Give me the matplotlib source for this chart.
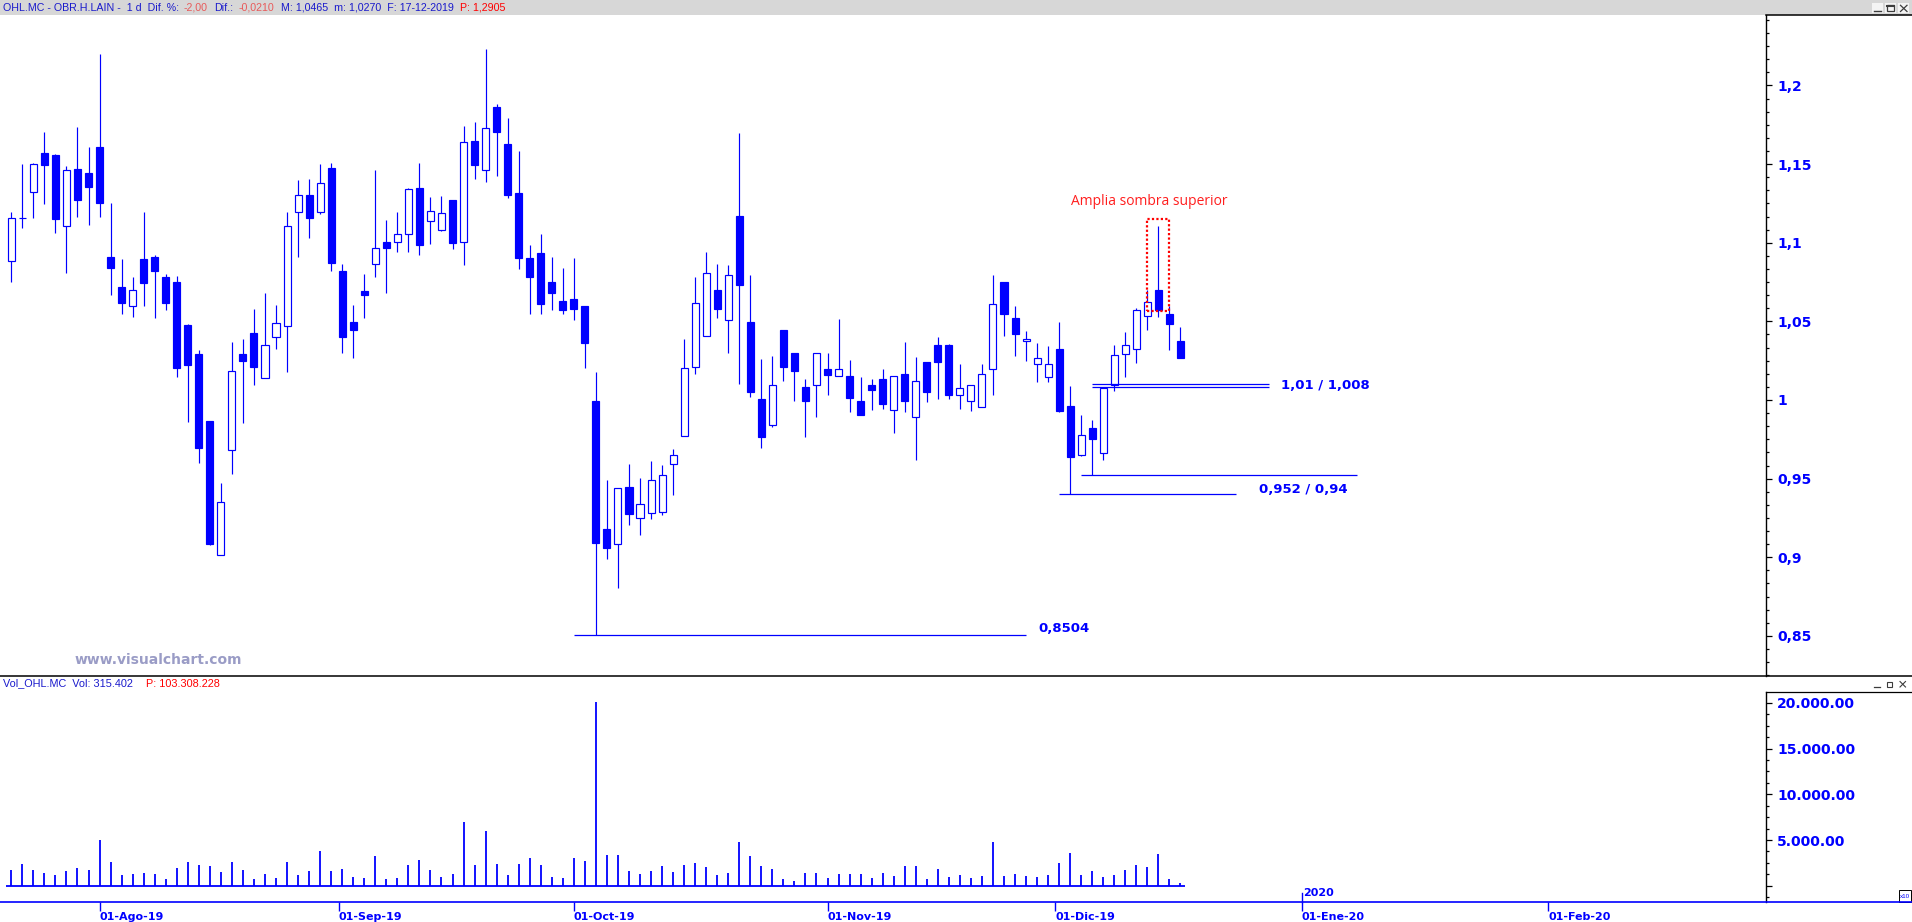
import numpy as np
import pandas as pd
import matplotlib
matplotlib.use('Agg')
import matplotlib.pyplot as plt
from matplotlib.patches import Rectangle
from matplotlib.ticker import MultipleLocator

# OHL.MC diario, 22-07-2019 a 17-12-2019
aperturas = [1.0882, 1.1155, 1.1325, 1.1568, 1.1558, 1.1109, 1.1467, 1.1441, 1.1609, 1.0909,
             1.0719, 1.0596, 1.0897, 1.0909, 1.0782, 1.0750, 1.0475, 1.0290, 0.9864, 0.9012,
             0.9680, 1.0290, 1.0426, 1.0142, 1.0398, 1.0468, 1.1193, 1.1301, 1.1193, 1.1473,
             1.0820, 1.0496, 1.0693, 1.0863, 1.1003, 1.1003, 1.1053, 1.1346, 1.1136, 1.1079,
             1.1270, 1.1003, 1.1645, 1.1460, 1.1863, 1.1628, 1.1316, 1.0903, 1.0935, 1.0750,
             1.0630, 1.0642, 1.0598, 0.9994, 0.9180, 0.9082, 0.9447, 0.9248, 0.9279, 0.9286,
             0.9591, 0.9769, 1.0208, 1.0405, 1.0697, 1.0507, 1.1168, 1.0496, 1.0006, 0.9839,
             1.0445, 1.0299, 1.0083, 1.0093, 1.0197, 1.0150, 1.0153, 0.9994, 1.0093, 1.0134,
             0.9934, 1.0165, 0.9890, 1.0242, 1.0348, 1.0348, 1.0030, 0.9992, 0.9953, 1.0195,
             1.0750, 1.0521, 1.0373, 1.0227, 1.0144, 1.0324, 0.9962, 0.9648, 0.9822, 0.9661,
             1.0093, 1.0290, 1.0322, 1.0532, 1.0699, 1.0547, 1.0375]
maximos = [1.1195, 1.1501, 1.1505, 1.1704, 1.1564, 1.1488, 1.1736, 1.1609, 1.2200, 1.1253,
           1.0897, 1.0782, 1.1195, 1.0922, 1.0800, 1.0788, 1.0480, 1.0318, 0.9864, 0.9472,
           1.0369, 1.0388, 1.0579, 1.0680, 1.0604, 1.1195, 1.1399, 1.1405, 1.1501, 1.1507,
           1.0865, 1.0604, 1.0801, 1.1462, 1.1145, 1.1195, 1.1350, 1.1507, 1.1291, 1.1295,
           1.1270, 1.1742, 1.1768, 1.2232, 1.1882, 1.1793, 1.1583, 1.0986, 1.1056, 1.0909,
           1.0839, 1.0903, 1.0598, 1.0178, 0.9491, 0.9438, 0.9593, 0.9504, 0.9612, 0.9587,
           0.9688, 1.0388, 1.0782, 1.0941, 1.0865, 1.0858, 1.1698, 1.0793, 1.0261, 1.0280,
           1.0445, 1.0299, 1.0134, 1.0299, 1.0299, 1.0515, 1.0254, 1.0146, 1.0134, 1.0197,
           1.0150, 1.0369, 1.0273, 1.0242, 1.0401, 1.0355, 1.0229, 1.0093, 1.0229, 1.0795,
           1.0750, 1.0598, 1.0439, 1.0365, 1.0343, 1.0494, 1.0089, 0.9905, 0.9873, 1.0080,
           1.0350, 1.0432, 1.0585, 1.0699, 1.1106, 1.0600, 1.0465]
minimos = [1.0752, 1.1096, 1.1159, 1.1248, 1.1064, 1.0805, 1.1164, 1.1113, 1.1164, 1.0670,
           1.0549, 1.0530, 1.0600, 1.0524, 1.0574, 1.0148, 0.9862, 0.9602, 0.9078, 0.9012,
           0.9532, 0.9856, 1.0097, 1.0142, 1.0326, 1.0180, 1.0911, 1.1032, 1.1181, 1.0822,
           1.0301, 1.0269, 1.0524, 1.0780, 1.0682, 1.0943, 1.0943, 1.0924, 1.0994, 1.1075,
           1.0958, 1.0858, 1.1405, 1.1388, 1.1426, 1.1287, 1.0835, 1.0549, 1.0549, 1.0574,
           1.0549, 1.0511, 1.0206, 0.8504, 0.8991, 0.8807, 0.9207, 0.9144, 0.9241, 0.9271,
           0.9398, 0.9769, 1.0167, 1.0405, 1.0524, 1.0301, 1.0104, 1.0021, 0.9697, 0.9830,
           1.0123, 0.9996, 0.9767, 0.9894, 1.0034, 1.0150, 0.9926, 0.9907, 0.9939, 0.9945,
           0.9792, 0.9926, 0.9621, 0.9989, 1.0008, 1.0008, 0.9945, 0.9932, 0.9953, 1.0032,
           1.0409, 1.0282, 1.0250, 1.0117, 1.0117, 0.9926, 0.9400, 0.9642, 0.9520, 0.9621,
           1.0055, 1.0148, 1.0237, 1.0445, 1.0530, 1.0318, 1.0270]
cierres = [1.1155, 1.1155, 1.1499, 1.1496, 1.1151, 1.1460, 1.1272, 1.1357, 1.1255, 1.0841,
           1.0619, 1.0697, 1.0746, 1.0822, 1.0619, 1.0206, 1.0225, 0.9697, 0.9086, 0.9349,
           1.0182, 1.0250, 1.0212, 1.0348, 1.0487, 1.1104, 1.1301, 1.1159, 1.1378, 1.0869,
           1.0403, 1.0447, 1.0670, 1.0964, 1.0964, 1.1053, 1.1340, 1.0988, 1.1200, 1.1187,
           1.1000, 1.1638, 1.1496, 1.1727, 1.1706, 1.1306, 1.0905, 1.0784, 1.0613, 1.0682,
           1.0574, 1.0581, 1.0365, 0.9089, 0.9061, 0.9438, 0.9277, 0.9337, 0.9489, 0.9521,
           0.9648, 1.0201, 1.0615, 1.0805, 1.0581, 1.0793, 1.0733, 1.0053, 0.9767, 1.0093,
           1.0212, 1.0187, 0.9996, 1.0299, 1.0161, 1.0197, 1.0015, 0.9907, 1.0066, 0.9977,
           1.0150, 0.9996, 1.0119, 1.0053, 1.0244, 1.0034, 1.0074, 1.0093, 1.0163, 1.0608,
           1.0549, 1.0422, 1.0388, 1.0265, 1.0227, 0.9932, 0.9635, 0.9775, 0.9750, 1.0074,
           1.0284, 1.0350, 1.0572, 1.0621, 1.0572, 1.0481, 1.0270]
volumenes = [1720, 2380, 1720, 1390, 1170, 1610, 1940, 1720, 5020, 2600,
             1170, 1280, 1390, 1280, 730, 1940, 2600, 2270, 2160, 1500,
             2600, 1720, 730, 1280, 840, 2600, 1170, 1610, 3810, 1610,
             1830, 950, 840, 3260, 730, 840, 2270, 2820, 1720, 950,
             1280, 7000, 2270, 6010, 2380, 1170, 2380, 3040, 2270, 950,
             840, 3040, 2710, 20100, 3370, 3370, 1610, 1280, 1610, 2160,
             1500, 2270, 2490, 2050, 1170, 1390, 4800, 3260, 2160, 1830,
             730, 510, 1390, 1390, 840, 1280, 1280, 1280, 840, 1390,
             1060, 2160, 2160, 730, 1830, 950, 1170, 840, 1060, 4800,
             1060, 1280, 1060, 950, 1170, 2490, 3590, 1170, 1610, 950,
             1170, 1720, 2270, 2050, 3480, 730, 300]

inicio = '2019-07-22'
inicios_mes = ['2019-08-01', '2019-09-01', '2019-10-01', '2019-11-01',
               '2019-12-01', '2020-01-01', '2020-02-01']
etiquetas_mes = ['01-Ago-19', '01-Sep-19', '01-Oct-19', '01-Nov-19',
                 '01-Dic-19', '01-Ene-20', '01-Feb-20']

# niveles marcados a mano
niveles = [1.01, 1.008, 0.952, 0.94, 0.8504]

AZUL = '#0000ff'
W, H = 1912, 922


def caja(x0, y0, x1, y1):
    # pixeles (origen arriba-izquierda) -> fraccion de figura
    return [x0 / W, 1 - y1 / H, (x1 - x0) / W, (y1 - y0) / H]


o = np.array(aperturas)
h = np.array(maximos)
l = np.array(minimos)
c = np.array(cierres)
n = len(c)
x = np.arange(n)
sube = c >= o

fig = plt.figure(figsize=(19.12, 9.22), dpi=100)
X_EJE = 1766
paso, x_ini = 11.03, 11.3
xlim = (-x_ini / paso, (X_EJE - x_ini) / paso)

# ---- panel de precios ----
ax = fig.add_axes(caja(0, 15.3, X_EJE, 676))
ax.vlines(x, l, h, color=AZUL, lw=0.85, zorder=2)
ax.bar(x, np.abs(c - o), bottom=np.minimum(o, c), width=0.64,
       color=np.where(sube, 'white', AZUL), edgecolor=AZUL, linewidth=0.85, zorder=3)
ax.set_xlim(*xlim)
ax.set_ylim(0.8245, 1.2446)
for s in ['top', 'left', 'bottom']:
    ax.spines[s].set_visible(False)
ax.spines['right'].set_linewidth(1)
ax.set_xticks([])
ax.yaxis.tick_right()
ticks_p = np.round(np.arange(0.85, 1.2001, 0.05), 2)
ax.set_yticks(ticks_p, [f"{v:g}".replace('.', ',') for v in ticks_p],
              fontweight='bold', fontsize=10, color=AZUL)
ax.yaxis.set_minor_locator(MultipleLocator(0.05 / 6))
ax.tick_params(axis='y', which='major', length=4.3, width=0.9, color='black', pad=3.6)
ax.tick_params(axis='y', which='minor', length=2.3, width=0.9, color='black')

# lineas de soporte / resistencia
tramos = [(98, 114), (98, 114), (97, 122), (95, 111), (51, 92)]
for nivel, (xa, xb) in zip(niveles, tramos):
    ax.hlines(nivel, xa, xb, color=AZUL, lw=0.9, zorder=4)
estilo = dict(color=AZUL, fontweight='bold', fontsize=9.5, va='center', ha='left')
ax.text(115.15, 1.0091, '1,01 / 1,008', **estilo)
ax.text(113.1, 0.9434, '0,952 / 0,94', **estilo)
ax.text(93.1, 0.855, '0,8504', **estilo)

ax.text(103.2, 1.126, 'Amplia sombra superior', color='#ff1e1e', family='Open Sans',
        fontsize=10, ha='center', va='center')
ax.add_patch(Rectangle((102.94, 1.0566), 2.0, 1.1153 - 1.0566, fill=False,
                       edgecolor='#ff0000', linestyle=(0, (1, 1)), lw=1.6, zorder=5))

# ---- panel de volumen ----
axv = fig.add_axes(caja(0, 691.7, X_EJE, 902.3))
axv.vlines(x, 0, volumenes, color=AZUL, lw=1.3)
axv.hlines(0, -0.45, n - 1 + 0.45, color=AZUL, lw=1.3)
axv.set_xlim(*xlim)
axv.set_ylim(-1816, 21225)
for s in ['top', 'left', 'bottom']:
    axv.spines[s].set_visible(False)
axv.spines['right'].set_linewidth(1)
axv.yaxis.tick_right()
ticks_v = [0, 5000, 10000, 15000, 20000]
axv.set_yticks(ticks_v, ['' if v == 0 else f"{v:,.0f}".replace(',', '.') + '.00' for v in ticks_v],
               fontweight='bold', fontsize=10, color=AZUL)
axv.yaxis.set_minor_locator(MultipleLocator(1250))
axv.tick_params(axis='y', which='major', length=4.3, width=0.9, color='black', pad=3.6)
axv.tick_params(axis='y', which='minor', length=2.3, width=0.9, color='black')

# eje de fechas (dias habiles)
fechas = pd.bdate_range(inicio, periods=200)
pos_mes = []
for m in inicios_mes:
    d = pd.Timestamp(m)
    k = fechas.searchsorted(d)
    pos_mes.append(k - (fechas[k] - d).days / 3)
axv.set_xticks(pos_mes, etiquetas_mes, fontweight='bold', fontsize=8, color=AZUL, ha='left')
axv.tick_params(axis='x', direction='out', length=6.5, width=1, color=AZUL, pad=0.6)
tr = axv.get_xaxis_transform()
axv.plot([pos_mes[5]] * 2, [0, 0.045], transform=tr, color=AZUL, lw=1, clip_on=False)
axv.text(pos_mes[5] + 0.12, 0.044, '2020', transform=tr, color=AZUL, fontweight='bold',
         fontsize=8, va='center', ha='left')

# ---- capa de decoracion en pixeles ----
ov = fig.add_axes([0, 0, 1, 1], zorder=10)
ov.set_xlim(0, W)
ov.set_ylim(H, 0)
ov.axis('off')
ov.add_patch(Rectangle((0, 0), W, 15, color='#d7d7d7', lw=0))
ov.plot([0, W], [676, 676], color='black', lw=1.1)
ov.plot([X_EJE, W], [15.5, 15.5], color='black', lw=1.1)
ov.plot([X_EJE, W], [691.7, 691.7], color='black', lw=0.9)
ov.plot([0, W], [902.3, 902.3], color=AZUL, lw=1.2)

cab = dict(family='Liberation Sans', fontsize=7.7, va='center', ha='left')
azul_t, rosa, rojo = '#1a1acc', '#e85a5a', '#ff0000'
for px, txt, col in [(3.3, 'OHL.MC - OBR.H.LAIN -  1 d  Dif. %:', azul_t),
                     (184, '-2,00', rosa), (214, 'Dif.:', azul_t), (239, '-0,0210', rosa),
                     (281, 'M: 1,0465  m: 1,0270  F: 17-12-2019', azul_t),
                     (460, 'P: 1,2905', rojo)]:
    ov.text(px, 7.6, txt, color=col, **cab)

cab_v = dict(family='Liberation Sans', fontsize=7.8, va='center', ha='left')
ov.text(3, 683.5, 'Vol_OHL.MC  Vol: 315.402', color=azul_t, **cab_v)
ov.text(146, 683.5, 'P: 103.308.228', color=rojo, **cab_v)

ov.text(75, 660, 'www.visualchart.com', color='#9a9cc6', fontweight='bold', fontsize=10,
        va='center', ha='left')

# botones de ventana
gris = '#3c3c3c'
for bx in [1872, 1885, 1898]:
    ov.add_patch(Rectangle((bx, 3.3), 11.5, 10, facecolor='#f4f4f4', edgecolor='none'))
ov.plot([1874.5, 1881], [11.3, 11.3], color=gris, lw=1)
ov.add_patch(Rectangle((1887.5, 5.5), 6.5, 6, fill=False, edgecolor=gris, lw=0.9))
ov.plot([1887.5, 1894], [5.8, 5.8], color=gris, lw=1.5)
ov.plot([1900.5, 1907], [5.3, 11.5], color=gris, lw=0.9)
ov.plot([1900.5, 1907], [11.5, 5.3], color=gris, lw=0.9)
ov.plot([1874.5, 1880], [687, 687], color=gris, lw=0.9)
ov.add_patch(Rectangle((1887, 681.5), 5, 5.5, fill=False, edgecolor=gris, lw=0.8))
ov.plot([1900, 1905.5], [681.5, 687], color=gris, lw=0.8)
ov.plot([1900, 1905.5], [687, 681.5], color=gris, lw=0.8)

ov.add_patch(Rectangle((1899, 890), 12.5, 11.5, facecolor='white', edgecolor='black', lw=0.7))
ov.text(1905.2, 896, 'x10', color=AZUL, fontsize=4.5, ha='center', va='center',
        family='Liberation Sans')

plt.savefig('out.png', dpi=100)
